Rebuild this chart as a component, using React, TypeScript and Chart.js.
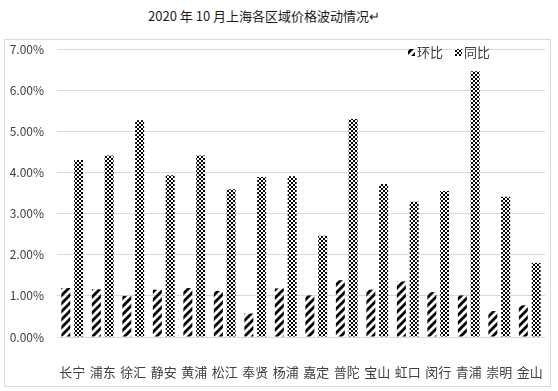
import React, { useEffect, useRef } from "react";
import { Chart, registerables } from "chart.js";

Chart.register(...registerables);

const title = "2020 年 10 月上海各区域价格波动情况↵";
const districts = ["长宁", "浦东", "徐汇", "静安", "黄浦", "松江", "奉贤", "杨浦", "嘉定", "普陀", "宝山", "虹口", "闵行", "青浦", "崇明", "金山"];
const seriesNames = ["环比", "同比"];
const momValues = [1.19, 1.16, 1.0, 1.15, 1.19, 1.12, 0.57, 1.18, 1.01, 1.38, 1.15, 1.35, 1.09, 1.01, 0.63, 0.77];
const yoyValues = [4.3, 4.41, 5.27, 3.93, 4.41, 3.59, 3.89, 3.91, 2.46, 5.3, 3.72, 3.29, 3.55, 6.46, 3.41, 1.8];
const yMin = 0;
const yMax = 7;
const yStep = 1;

const FONT = "'Noto Sans CJK SC', 'Noto Sans', sans-serif";

function makeHatch(ctx: CanvasRenderingContext2D) {
  const c = document.createElement("canvas");
  c.width = 8;
  c.height = 8;
  const g = c.getContext("2d")!;
  g.strokeStyle = "#000";
  g.lineWidth = 2.8;
  g.lineCap = "square";
  g.beginPath();
  g.moveTo(-2, 10);
  g.lineTo(10, -2);
  g.moveTo(-6, 6);
  g.lineTo(6, -6);
  g.moveTo(2, 14);
  g.lineTo(14, 2);
  g.stroke();
  return ctx.createPattern(c, "repeat")!;
}

function makeChecker(ctx: CanvasRenderingContext2D) {
  const c = document.createElement("canvas");
  c.width = 4;
  c.height = 4;
  const g = c.getContext("2d")!;
  g.fillStyle = "#fff";
  g.fillRect(0, 0, 4, 4);
  g.fillStyle = "#000";
  const on = [
    [1, 1, 0, 0],
    [1, 1, 0, 0],
    [0, 0, 1, 1],
    [0, 0, 1, 1],
  ];
  for (let y = 0; y < 4; y++) for (let x = 0; x < 4; x++) if (on[y][x]) g.fillRect(x, y, 1, 1);
  return ctx.createPattern(c, "repeat")!;
}

export default function App() {
  const ref = useRef<HTMLCanvasElement | null>(null);
  useEffect(() => {
    const canvas = ref.current!;
    const ctx = canvas.getContext("2d")!;
    const hatch = makeHatch(ctx);
    const checker = makeChecker(ctx);

    const legendPlugin = {
      id: "customLegend",
      afterDraw(chart: any) {
        const c = chart.ctx as CanvasRenderingContext2D;
        const area = chart.chartArea;
        c.save();
        c.font = `13px ${FONT}`;
        c.textBaseline = "middle";
        const cy = area.top + 3;
        let x = area.right - 137;
        chart.data.datasets.forEach((ds: any) => {
          c.fillStyle = ds.backgroundColor;
          c.fillRect(x, cy - 3, 7, 7);
          c.fillStyle = "#404040";
          c.fillText(ds.label, x + 9, cy);
          x += 9 + c.measureText(ds.label).width + 12;
        });
        c.restore();
      },
    };

    const chart = new Chart(canvas, {
      type: "bar",
      data: {
        labels: districts,
        datasets: [
          { label: seriesNames[0], data: momValues, backgroundColor: hatch as any, borderWidth: 0 },
          { label: seriesNames[1], data: yoyValues, backgroundColor: checker as any, borderWidth: 0 },
        ],
      },
      options: {
        responsive: false,
        animation: false,
        layout: { padding: { top: 9, right: 4, left: 0, bottom: 0 } },
        datasets: { bar: { categoryPercentage: 0.84, barPercentage: 0.7 } },
        plugins: { legend: { display: false }, tooltip: { enabled: false }, title: { display: false } },
        scales: {
          x: {
            grid: { display: false, drawTicks: false },
            border: { display: false },
            ticks: { color: "#404040", font: { family: FONT, size: 13 }, padding: 27, maxRotation: 0, autoSkip: false },
            afterFit: (s: any) => { s.height = 48; s.paddingLeft = 0; s.paddingRight = 0; },
          },
          y: {
            min: yMin,
            max: yMax,
            grid: { color: "#d9d9d9", drawTicks: false, lineWidth: 1 },
            border: { display: false },
            ticks: {
              stepSize: yStep,
              color: "#404040",
              padding: 13,
              font: { family: FONT, size: 12 },
              callback: (v: any) => Number(v).toFixed(2) + "%",
            },
            afterFit: (s: any) => { s.width = 52; s.paddingTop = 0; s.paddingBottom = 0; },
          },
        },
      },
      plugins: [legendPlugin],
    });
    return () => chart.destroy();
  }, []);

  return (
    <div style={{ position: "fixed", left: 0, top: 0, width: 558, height: 391, background: "#fff" }}>
      <div
        style={{
          position: "absolute",
          left: 0,
          width: 528,
          top: 6,
          textAlign: "center",
          fontFamily: FONT,
          fontSize: 13,
          color: "#1a1a1a",
          lineHeight: "20px",
        }}
      >
        {title}
      </div>
      <div
        style={{
          position: "absolute",
          left: 4,
          top: 39,
          width: 545,
          height: 346,
          border: "1px solid #d9d9d9",
        }}
      >
        <canvas ref={ref} width={544} height={345} style={{ display: "block" }} />
      </div>
    </div>
  );
}
